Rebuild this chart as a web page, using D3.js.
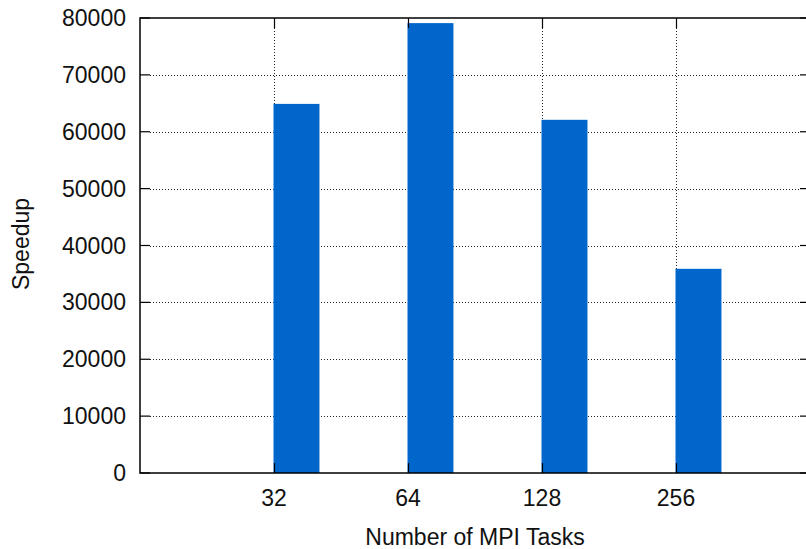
<!DOCTYPE html>
<html>
<head>
<meta charset="utf-8">
<script src="https://cdn.jsdelivr.net/npm/d3@7"></script>
<style>
  html, body { margin: 0; padding: 0; background: #fff; }
  svg { display: block; }
  text { font-family: "Liberation Sans", Arial, sans-serif; fill: #111; }
</style>
</head>
<body>
<svg id="chart" width="806" height="549"></svg>
<script>
// Speedup per MPI task count
const categories = ["32", "64", "128", "256"];
const speedup = [64900, 79100, 62100, 35900];
const yTicks = [0, 10000, 20000, 30000, 40000, 50000, 60000, 70000, 80000];

const plotLeft = 140, plotRight = 810, plotTop = 18, plotBottom = 473;
const fontSize = 23;

const svg = d3.select("#chart");

// cluster positions run from -1 to 4, one slot per category at 0..3
const x = d3.scaleLinear().domain([-1, 4]).range([plotLeft, plotRight]);
const y = d3.scaleLinear().domain([0, 80000]).range([plotBottom, plotTop]);
const barSpan = 0.343;

// dotted grid
const grid = svg.append("g").attr("stroke", "#222").attr("stroke-width", 1)
  .attr("stroke-dasharray", "1,2");
grid.selectAll("line.h").data(yTicks.filter(v => v > 0 && v < 80000)).enter()
  .append("line").attr("class", "h")
  .attr("x1", plotLeft + 10).attr("x2", plotRight - 10)
  .attr("y1", d => Math.round(y(d)) + 0.5).attr("y2", d => Math.round(y(d)) + 0.5);
grid.selectAll("line.v").data(categories).enter()
  .append("line").attr("class", "v")
  .attr("x1", (d, i) => Math.round(x(i)) + 0.5).attr("x2", (d, i) => Math.round(x(i)) + 0.5)
  .attr("y1", plotTop + 10).attr("y2", plotBottom);

// bars
svg.append("g").selectAll("rect").data(speedup).enter().append("rect")
  .attr("x", (d, i) => x(i) - 0.5)
  .attr("width", (d, i) => x(i + barSpan) - x(i))
  .attr("y", d => y(d))
  .attr("height", d => y(0) - y(d))
  .attr("fill", "#0066cc");

// frame and tick marks
const frame = svg.append("g").attr("stroke", "#000").attr("fill", "none");
frame.append("rect").attr("x", plotLeft).attr("y", plotTop)
  .attr("width", plotRight - plotLeft).attr("height", plotBottom - plotTop).attr("stroke-width", 1.5);
frame.selectAll("g.yt").data(yTicks).enter().append("g").each(function (d) {
  const g = d3.select(this), yy = y(d);
  g.append("line").attr("x1", plotLeft).attr("x2", plotLeft + 10).attr("y1", yy).attr("y2", yy).attr("stroke-width", 1.2);
  g.append("line").attr("x1", plotRight - 10).attr("x2", plotRight).attr("y1", yy).attr("y2", yy).attr("stroke-width", 1.2);
});
frame.selectAll("g.xt").data(categories).enter().append("g").each(function (d, i) {
  const g = d3.select(this), xx = Math.round(x(i)) + 0.5;
  g.append("line").attr("x1", xx).attr("x2", xx).attr("y1", plotTop).attr("y2", plotTop + 10).attr("stroke-width", 1.2);
  g.append("line").attr("x1", xx).attr("x2", xx).attr("y1", plotBottom - 10).attr("y2", plotBottom).attr("stroke-width", 1.2);
});

// y tick labels
svg.append("g").selectAll("text").data(yTicks).enter().append("text")
  .attr("x", 126)
  .attr("y", d => y(d) + 8)
  .attr("text-anchor", "end")
  .attr("font-size", fontSize)
  .text(d => d);

// x tick labels
svg.append("g").selectAll("text").data(categories).enter().append("text")
  .attr("x", (d, i) => x(i))
  .attr("y", 506)
  .attr("text-anchor", "middle")
  .attr("font-size", fontSize)
  .text(d => d);

// axis titles
svg.append("text")
  .attr("x", (plotLeft + plotRight) / 2)
  .attr("y", 545)
  .attr("text-anchor", "middle")
  .attr("font-size", fontSize)
  .text("Number of MPI Tasks");
svg.append("text")
  .attr("transform", "translate(28.5,244) rotate(-90)")
  .attr("text-anchor", "middle")
  .attr("font-size", fontSize)
  .text("Speedup");
</script>
</body>
</html>
